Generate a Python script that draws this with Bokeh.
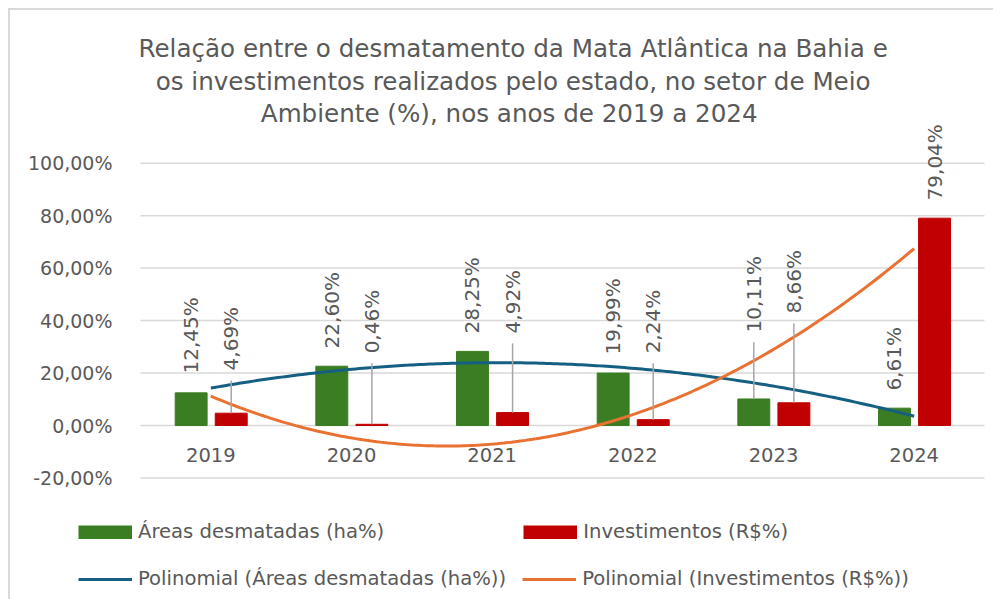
import numpy as np
from bokeh.plotting import figure
from bokeh.models import Range1d, FixedTicker, Label, Legend, LegendItem, ColumnDataSource
from bokeh.embed import file_html
from bokeh.resources import INLINE
from bokeh.core.properties import value

# ---------------- data ----------------
anos = ["2019", "2020", "2021", "2022", "2023", "2024"]
areas_desmatadas = [12.45, 22.60, 28.25, 19.99, 10.11, 6.61]   # ha %
investimentos = [4.69, 0.46, 4.92, 2.24, 8.66, 79.04]          # R$ %
y_ticks = [-20, 0, 20, 40, 60, 80, 100]
y_tick_labels = ["-20,00%", "0,00%", "20,00%", "40,00%", "60,00%", "80,00%", "100,00%"]
title_lines = [
    "Relação entre o desmatamento da Mata Atlântica na Bahia e",
    "os investimentos realizados pelo estado, no setor de Meio",
    "Ambiente  (%), nos anos de 2019 a 2024",
]
serie_nomes = [
    "Áreas desmatadas (ha%)",
    "Investimentos (R$%)",
    "Polinomial (Áreas desmatadas (ha%))",
    "Polinomial (Investimentos (R$%))",
]
# positions (in % units) where the data labels were placed in the original chart
pos_rotulo_areas = [19.8, 29.4, 35.1, 27.1, 35.5, 13.3]
pos_rotulo_invest = [21.0, 27.5, 35.1, 27.5, 42.7, 85.8]

# ---------------- styles ----------------
FONT = "DejaVu Sans"
TXT = "#595959"
GREEN = "#3A7D22"
RED = "#C00000"
BLUE = "#156082"
ORANGE = "#E97132"
GRID = "#D9D9D9"
LEADER = "#A6A6A6"

fmt = lambda v: f"{v:.2f}%".replace(".", ",")

xc = np.arange(1, len(anos) + 1)
src = ColumnDataSource(dict(
    xg=xc - 0.14, xr=xc + 0.145,
    areas=areas_desmatadas, invest=investimentos,
    lab_a=[fmt(v) for v in areas_desmatadas],
    lab_i=[fmt(v) for v in investimentos],
    pos_a=pos_rotulo_areas, pos_i=pos_rotulo_invest,
))

K = 844 / 6.0  # px per category
p = figure(width=985, height=591,
           x_range=Range1d(0.5 - 130 / K, 0.5 + 855 / K), y_range=Range1d(-67.09, 158.2),
           output_backend="svg", toolbar_location=None,
           min_border_left=0, min_border_right=0, min_border_top=0, min_border_bottom=0,
           background_fill_color="white", border_fill_color="white",
           outline_line_color=None,
           styles={"margin-left": "8px", "margin-top": "8px",
                   "border-top": "2px solid #D9D9D9", "border-left": "2px solid #D9D9D9"})
p.title.visible = False
p.xgrid.visible = False
p.ygrid.visible = False

# horizontal gridlines across the plot area
p.segment(x0=0.5, x1=6.5, y0=y_ticks, y1=y_ticks, line_color=GRID, line_width=1.5)

# y axis (placed at the left edge of the plot area)
yax = p.yaxis[0]
yax.fixed_location = 0.5
yax.ticker = FixedTicker(ticks=y_ticks)
yax.major_label_overrides = dict(zip(y_ticks, y_tick_labels))
yax.axis_line_color = None
yax.major_tick_line_color = None
yax.minor_tick_line_color = None
yax.major_label_standoff = 22
yax.major_label_text_font = FONT
yax.major_label_text_font_size = "19px"
yax.major_label_text_color = TXT

# x axis at 0
xax = p.xaxis[0]
xax.fixed_location = 0
xax.ticker = FixedTicker(ticks=[int(v) for v in xc])
xax.major_label_overrides = {int(v): a for v, a in zip(xc, anos)}
xax.axis_line_color = None
xax.major_tick_line_color = None
xax.minor_tick_line_color = None
xax.major_label_standoff = 16
xax.major_label_text_font = FONT
xax.major_label_text_font_size = "19.5px"
xax.major_label_text_color = TXT

# bars
rg = p.vbar(x="xg", top="areas", bottom=0, width=0.227, color=GREEN, source=src)
rr = p.vbar(x="xr", top="invest", bottom=0, width=0.227, color=RED, source=src)

# polynomial (order 2) trendlines, fitted to the data
xs = np.linspace(1, 6, 200)
fit_a = np.polyval(np.polyfit(xc, areas_desmatadas, 2), xs)
fit_i = np.polyval(np.polyfit(xc, investimentos, 2), xs)
lb = p.line(xs, fit_a, line_width=3, color=BLUE)
lo = p.line(xs, fit_i, line_width=3, color=ORANGE)

# leader lines for moved labels
for xcol, vals, pos in (("xg", areas_desmatadas, pos_rotulo_areas), ("xr", investimentos, pos_rotulo_invest)):
    xx = np.array(src.data[xcol])
    v = np.array(vals)
    ps = np.array(pos)
    m = (ps - v) > 10
    p.segment(x0=xx[m], y0=v[m], x1=xx[m], y1=ps[m] - 3.8, line_color=LEADER, line_width=1.5)

# data labels (rotated)
for xcol, lab, pos in (("xg", "lab_a", "pos_a"), ("xr", "lab_i", "pos_i")):
    p.text(x=xcol, y=pos, text=lab, angle=np.pi / 2, text_align="left", text_baseline="middle",
           text_font=value(FONT), text_font_size="20px", text_color=TXT, source=src)

# title
for line, yy in zip(title_lines, [143.8, 131.3, 118.9]):
    p.add_layout(Label(x=3.149, y=yy, text=line, text_align="center", text_baseline="alphabetic",
                       text_font=FONT, text_font_size="24.6px", text_color=TXT))

# legend swatch helpers (full-size filled swatches for the bar series; draw nothing in the plot)
dg = p.line(x=[np.nan, np.nan], y=[np.nan, np.nan], line_width=14, color=GREEN)
dr = p.line(x=[np.nan, np.nan], y=[np.nan, np.nan], line_width=14, color=RED)

common = dict(orientation="horizontal", glyph_width=54, glyph_height=14, label_standoff=6,
              padding=0, margin=0, border_line_color=None, background_fill_alpha=0,
              label_text_font=FONT, label_text_font_size="19.6px", label_text_color=TXT)
leg1 = Legend(items=[LegendItem(label=serie_nomes[0], renderers=[rg, dg]),
                     LegendItem(label=serie_nomes[1], renderers=[rr, dr])],
              location=(68, 58), spacing=139, **common)
leg2 = Legend(items=[LegendItem(label=serie_nomes[2], renderers=[lb]),
                     LegendItem(label=serie_nomes[3], renderers=[lo])],
              location=(68, 11), spacing=16, **common)
p.add_layout(leg1)
p.add_layout(leg2)

open("out.html", "w").write(file_html(p, INLINE))
